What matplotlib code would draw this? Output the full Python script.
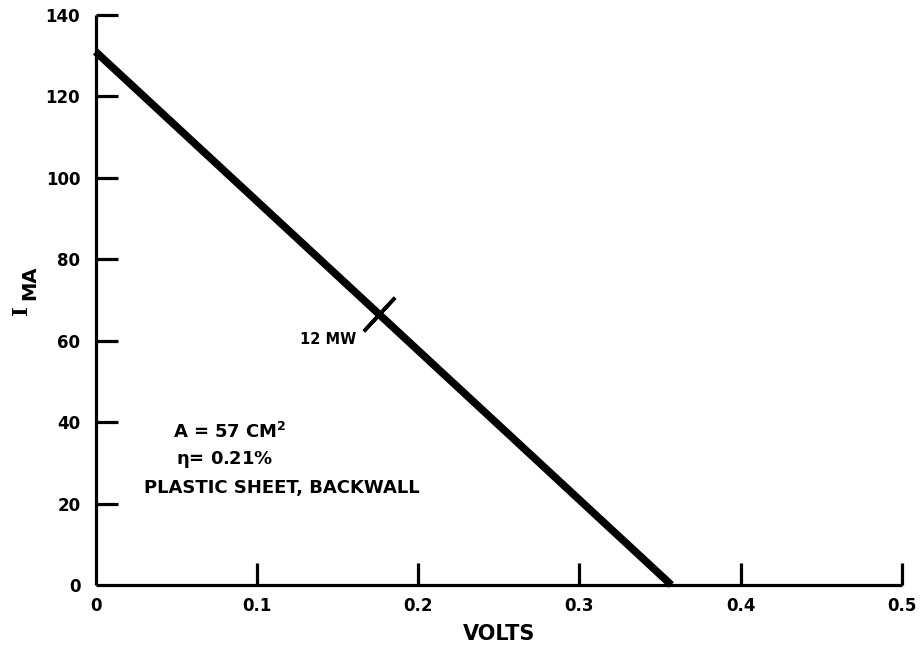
import numpy as np
import matplotlib
matplotlib.use("Agg")
import matplotlib.pyplot as plt

# I-V characteristic of the cell (volts, milliamps)
volts = [0.0, 0.357]
current_ma = [131.0, 0.0]

# maximum power point
mpp_v = 0.1755
mpp_i = 66.6
mpp_label = "12 MW"

x_ticks = [0.0, 0.1, 0.2, 0.3, 0.4, 0.5]
x_ticklabels = ["0", "0.1", "0.2", "0.3", "0.4", "0.5"]
y_ticks = [0, 20, 40, 60, 80, 100, 120, 140]
y_ticklabels = ["0", "20", "40", "60", "80", "100", "120", "140"]

notes = [r"A = 57 CM$^{\mathbf{2}}$", r"$\eta$= 0.21%", "PLASTIC SHEET, BACKWALL"]

plt.rcParams["font.family"] = "DejaVu Sans"
plt.rcParams["font.weight"] = "bold"
plt.rcParams["mathtext.fontset"] = "dejavusans"
plt.rcParams["mathtext.default"] = "bf"

fig = plt.figure(figsize=(9.24, 6.52), dpi=100)
ax = fig.add_axes([0.1034, 0.1028, 0.8728, 0.8742])
ax.set_xlim(0, 0.5)
ax.set_ylim(0, 140)

for s in ("top", "right"):
    ax.spines[s].set_visible(False)
for s in ("left", "bottom"):
    ax.spines[s].set_linewidth(2.3)
    ax.spines[s].set_capstyle("butt")

ax.set_xticks(x_ticks)
ax.set_xticklabels(x_ticklabels)
ax.set_yticks(y_ticks)
ax.set_yticklabels(y_ticklabels)
ax.tick_params(direction="in", length=16, width=2.3, labelsize=12)
ax.tick_params(axis="x", pad=9)
ax.tick_params(axis="y", pad=11)
# no tick marks at the origin, only the labels
ax.xaxis.get_major_ticks()[0].tick1line.set_visible(False)
ax.yaxis.get_major_ticks()[0].tick1line.set_visible(False)

ax.plot(volts, current_ma, color="black", lw=5.5, solid_capstyle="butt", clip_on=False)

# tick across the curve at the maximum power point, perpendicular in display space
fig.canvas.draw()
p0 = ax.transData.transform((volts[0], current_ma[0]))
p1 = ax.transData.transform((volts[1], current_ma[1]))
ang = np.degrees(np.arctan2(p1[1] - p0[1], p1[0] - p0[0]))
ax.plot([mpp_v], [mpp_i], marker=(2, 2, ang), markersize=33, mew=2.6, color="black")

ax.text(0.1444, 60.2, mpp_label, ha="center", va="center", fontsize=10.5, fontweight="bold")

note_x = [0.0834, 0.0803, 0.1156]
note_y = [37.6, 30.7, 23.8]
for tx, ty, s in zip(note_x, note_y, notes):
    ax.text(tx, ty, s, ha="center", va="center", fontsize=13, fontweight="bold")

ax.set_xlabel("VOLTS", fontsize=15, fontweight="bold", labelpad=6)

# y-axis label: current in milliamps, drawn as "I" with the "MA" subscript
W, H = fig.get_size_inches() * fig.dpi
fig.text(21.5 / W, 1 - 310 / H, "I", rotation=90, ha="center", va="center",
         fontsize=15, fontweight="bold", family="DejaVu Serif")
fig.text(29.5 / W, 1 - 283 / H, "MA", rotation=90, ha="center", va="center",
         fontsize=14, fontweight="bold")

fig.savefig("out.png", dpi=100)
